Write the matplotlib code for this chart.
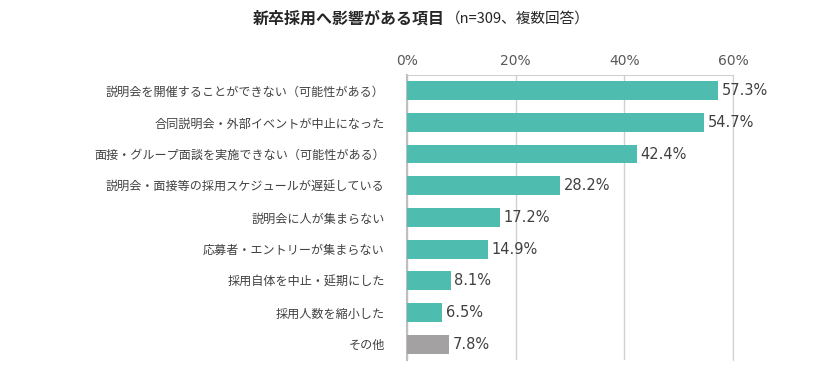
import matplotlib.pyplot as plt
from matplotlib.ticker import PercentFormatter

plt.rcParams['font.family'] = ['Noto Sans CJK JP', 'DejaVu Sans']

# data
categories = [
    '説明会を開催することができない（可能性がある）',
    '合同説明会・外部イベントが中止になった',
    '面接・グループ面談を実施できない（可能性がある）',
    '説明会・面接等の採用スケジュールが遅延している',
    '説明会に人が集まらない',
    '応募者・エントリーが集まらない',
    '採用自体を中止・延期にした',
    '採用人数を縮小した',
    'その他',
]
values = [57.3, 54.7, 42.4, 28.2, 17.2, 14.9, 8.1, 6.5, 7.8]
x_ticks = [0, 20, 40, 60]

teal = '#4fbcb0'
grey = '#a3a1a1'
colors = [grey if c == 'その他' else teal for c in categories]

fig = plt.figure(figsize=(8.22, 3.77), dpi=100)
ax = fig.add_axes([0.4951, 0.0451, 0.8917 - 0.4951, 0.8011 - 0.0451])

ypos = range(len(categories))
ax.barh(ypos, values, height=0.59, color=colors, zorder=3)

for y, v in zip(ypos, values):
    ax.text(v + 0.6, y, f'{v:.1f}%', va='center', ha='left',
            fontsize=10.5, color='#404040', family='DejaVu Sans', zorder=4)

ax.set_xlim(0, 60)
ax.set_ylim(len(categories) - 0.5, -0.5)
ax.set_xticks(x_ticks)
ax.xaxis.set_major_formatter(PercentFormatter(decimals=0))
ax.xaxis.tick_top()
ax.tick_params(axis='x', length=0, pad=5, labelsize=10, labelcolor='#595959')
ax.set_yticks(list(ypos))
ax.set_yticklabels(categories, fontsize=8.7, color='#404040')
ax.tick_params(axis='y', length=0, pad=16)
for lbl in ax.get_xticklabels():
    lbl.set_family('DejaVu Sans')

ax.grid(axis='x', color='#d0d0d0', linewidth=1, zorder=0)
ax.spines['bottom'].set_visible(False)
ax.spines['right'].set_color('#d0d0d0')
ax.spines['top'].set_color('#d0d0d0')
ax.spines['left'].set_color('#bfbfbf')
ax.spines['left'].set_linewidth(1.5)

fig.text(0.3075, 0.952, '新卒採用へ影響がある項目', fontsize=11.5, fontweight='bold',
         color='#262626', ha='left', va='center')
fig.text(0.542, 0.952, '（n=309、複数回答）', fontsize=10.5, color='#262626',
         ha='left', va='center')

fig.savefig('out.png', dpi=100)
